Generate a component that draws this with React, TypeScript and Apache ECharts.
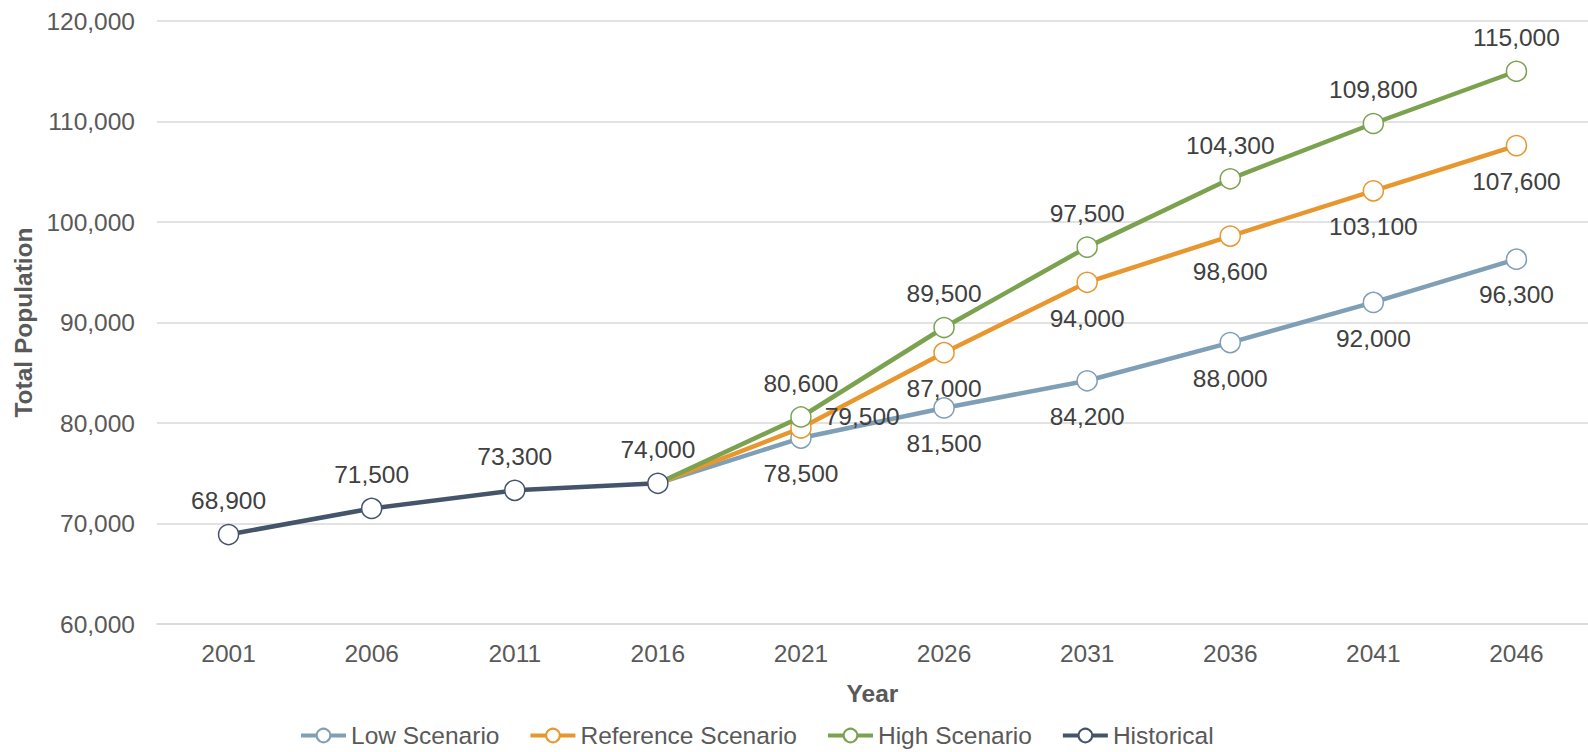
import React, { useEffect, useRef } from "react";
import * as echarts from "echarts";

const years = ["2001", "2006", "2011", "2016", "2021", "2026", "2031", "2036", "2041", "2046"];
const historical = [68900, 71500, 73300, 74000, null, null, null, null, null, null];
const lowScenario = [null, null, null, 74000, 78500, 81500, 84200, 88000, 92000, 96300];
const referenceScenario = [null, null, null, 74000, 79500, 87000, 94000, 98600, 103100, 107600];
const highScenario = [null, null, null, 74000, 80600, 89500, 97500, 104300, 109800, 115000];

const FONT = "'Liberation Sans', Arial, sans-serif";
const FS = 24.5;
const fmt = (v: number) => v.toLocaleString("en-US");

function buildData(arr: (number | null)[], hideIndex: number, rightIndex?: number) {
  return arr.map((v, i) => {
    if (v === null) return null;
    if (i === hideIndex) {
      return { value: v, symbolSize: 0, label: { show: false } };
    }
    if (i === rightIndex) {
      return { value: v, label: { position: "right", distance: 13, offset: [0, -12] } };
    }
    return v;
  });
}

export default function App() {
  const ref = useRef<HTMLDivElement>(null);
  useEffect(() => {
    if (!ref.current) return;
    document.body.style.margin = "0";
    document.documentElement.style.overflow = "hidden";
    document.body.style.overflow = "hidden";
    const chart = echarts.init(ref.current, undefined, { renderer: "svg" });
    const labelBase = {
      show: true,
      fontSize: FS,
      color: "#404040",
      fontFamily: FONT,
      formatter: (p: any) => fmt(p.value as number),
    };
    const mk = (name: string, color: string, data: any[], pos: string, dist: number, z: number) => ({
      name,
      type: "line",
      data,
      z,
      symbol: "circle",
      symbolSize: 20,
      showSymbol: true,
      connectNulls: false,
      lineStyle: { color, width: 4.5 },
      itemStyle: { color: "#ffffff", borderColor: color, borderWidth: 1.5 },
      label: { ...labelBase, position: pos, distance: dist },
      labelLine: { show: false },
      emphasis: { disabled: true },
    });
    chart.setOption({
      animation: false,
      textStyle: { fontFamily: FONT },
      grid: { left: 157, width: 1438, top: 21, height: 603 },
      legend: {
        left: 294,
        top: 718,
        itemWidth: 45,
        itemHeight: 17,
        itemGap: 29,
        lineStyle: { width: 4 },
        textStyle: { fontSize: FS, color: "#595959", fontFamily: FONT },
        data: ["Low Scenario", "Reference Scenario", "High Scenario", "Historical"],
      },
      xAxis: {
        type: "category",
        data: years,
        boundaryGap: true,
        name: "Year",
        nameLocation: "middle",
        nameGap: 57,
        nameTextStyle: { fontSize: FS, fontWeight: "bold", color: "#595959", fontFamily: FONT },
        axisLine: { show: true, lineStyle: { color: "#d9d9d9", width: 1.5 } },
        axisTick: { show: false },
        axisLabel: { fontSize: FS, color: "#595959", margin: 17, fontFamily: FONT },
      },
      yAxis: {
        type: "value",
        min: 60000,
        max: 120000,
        interval: 10000,
        name: "Total Population",
        nameLocation: "middle",
        nameGap: 117,
        nameTextStyle: { fontSize: FS, fontWeight: "bold", color: "#595959", fontFamily: FONT },
        axisLine: { show: false },
        axisTick: { show: false },
        splitLine: { lineStyle: { color: "#d9d9d9", width: 1.5 } },
        axisLabel: {
          fontSize: FS,
          color: "#595959",
          margin: 22,
          fontFamily: FONT,
          formatter: (v: number) => fmt(v),
        },
      },
      series: [
        mk("Low Scenario", "#7F9FB7", buildData(lowScenario, 3), "bottom", 12.5, 2),
        mk("Reference Scenario", "#E8962E", buildData(referenceScenario, 3, 4), "bottom", 12.5, 3),
        mk("High Scenario", "#7BA24E", buildData(highScenario, 3), "top", 10.5, 4),
        mk("Historical", "#44546A", buildData(historical, -1), "top", 10.5, 5),
      ],
    });
    return () => chart.dispose();
  }, []);
  return (
    <div
      ref={ref}
      style={{ position: "fixed", left: 0, top: 0, width: 1588, height: 752, background: "#fff" }}
    />
  );
}
